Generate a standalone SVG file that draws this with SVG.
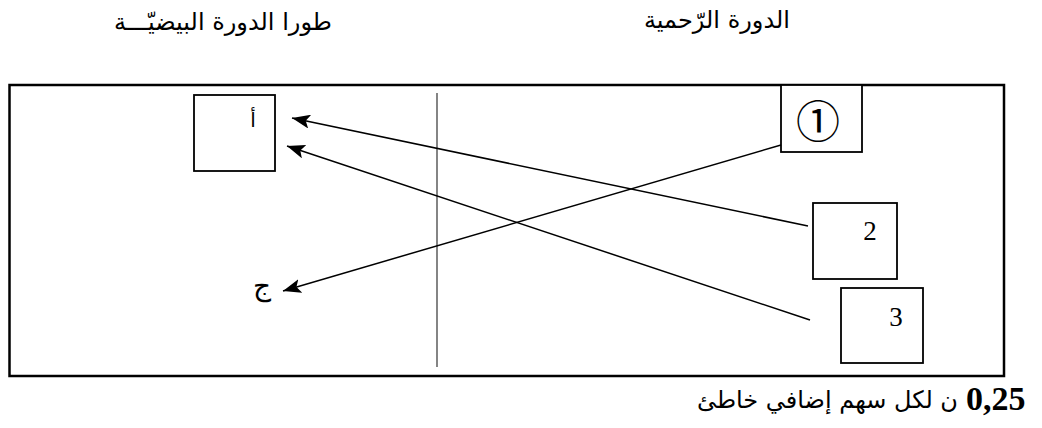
<svg xmlns="http://www.w3.org/2000/svg" width="1042" height="428" viewBox="0 0 1042 428">
<style>
.box{fill:#fff;stroke:#000;stroke-width:1.8}
.ar{font-family:"DejaVu Sans",sans-serif;fill:#000}
.num{font-family:"Liberation Serif",serif;fill:#000}
.conn{stroke:#000;stroke-width:1.5;fill:none}
</style>
<defs>
<marker id="ah" markerUnits="userSpaceOnUse" markerWidth="20" markerHeight="14" refX="18" refY="7" orient="auto">
<path d="M0,0 L18,7 L0,14 L4,7 Z" fill="#000"/>
</marker>
</defs>
<rect width="1042" height="428" fill="#fff"/>
<text class="ar" x="223" y="30" font-size="24" text-anchor="middle">طورا الدورة   البيضيّـــة</text>
<text class="ar" x="717" y="28" font-size="24" text-anchor="middle">الدورة الرّحمية</text>
<g id="frame">
<rect x="9.5" y="85" width="994.5" height="291" fill="none" stroke="#000" stroke-width="2.5"/>
<line x1="437" y1="93" x2="437" y2="367" stroke="#333" stroke-width="1.2"/>
</g>
<g id="node-a">
<rect class="box" x="194" y="95" width="81" height="76"/>
<text class="ar" x="253" y="127" font-size="20" text-anchor="middle">أ</text>
</g>
<g id="node-j">
<text class="ar" x="262" y="295" font-size="28" text-anchor="middle">ج</text>
</g>
<g id="node-1">
<rect class="box" x="781" y="85" width="81" height="67"/>
<text x="818" y="138" font-size="44" text-anchor="middle" font-family="Noto Sans CJK JP, DejaVu Sans, sans-serif">①</text>
</g>
<g id="node-2">
<rect class="box" x="813" y="203" width="84" height="76"/>
<text class="num" x="870" y="240" font-size="27" text-anchor="middle">2</text>
</g>
<g id="node-3">
<rect class="box" x="841" y="288" width="82" height="75"/>
<text class="num" x="896" y="326" font-size="27" text-anchor="middle">3</text>
</g>
<g id="connectors">
<line class="conn" x1="808" y1="226" x2="292" y2="118" marker-end="url(#ah)"/>
<line class="conn" x1="810" y1="320" x2="287" y2="146" marker-end="url(#ah)"/>
<line class="conn" x1="781" y1="145" x2="283" y2="291" marker-end="url(#ah)"/>
</g>
<text class="num" x="966" y="410" font-size="34" font-weight="bold">0,25</text>
<text class="ar" x="958" y="408" font-size="24" text-anchor="end">ن لكل سهم إضافي خاطئ</text>
</svg>
